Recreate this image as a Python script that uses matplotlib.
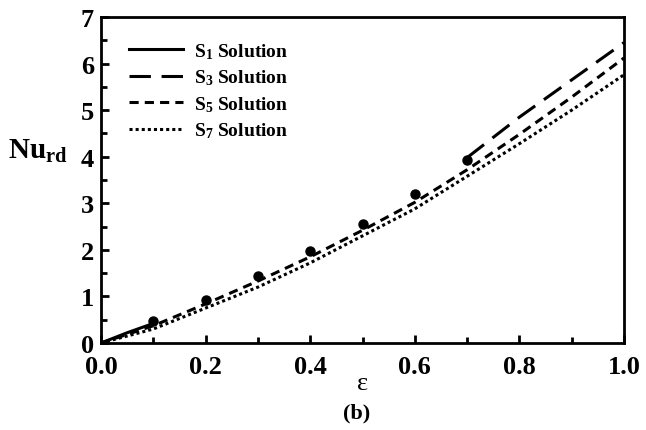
import matplotlib
matplotlib.use('Agg')
import matplotlib.pyplot as plt
from matplotlib.ticker import MultipleLocator

plt.rcParams['font.family'] = 'Liberation Serif'
plt.rcParams['mathtext.fontset'] = 'custom'
plt.rcParams['mathtext.rm'] = 'Liberation Serif'
plt.rcParams['mathtext.bf'] = 'Liberation Serif:bold'

# data
eps_s1 = [0.0, 0.05, 0.1]
nu_s1 = [0.0, 0.22, 0.42]

eps_s3 = [0.7, 0.8, 0.9, 1.0]
nu_s3 = [3.98, 4.85, 5.65, 6.45]

eps_s5 = [0.0, 0.1, 0.2, 0.3, 0.4, 0.5, 0.6, 0.7, 0.8, 0.9, 1.0]
nu_s5 = [0.0, 0.37, 0.84, 1.33, 1.85, 2.42, 3.02, 3.72, 4.48, 5.28, 6.12]

eps_s7 = [0.0, 0.1, 0.2, 0.3, 0.4, 0.5, 0.6, 0.7, 0.8, 0.9, 1.0]
nu_s7 = [0.0, 0.3, 0.75, 1.2, 1.72, 2.3, 2.88, 3.58, 4.28, 5.0, 5.76]

eps_pts = [0.1, 0.2, 0.3, 0.4, 0.5, 0.6, 0.7]
nu_pts = [0.47, 0.92, 1.44, 1.97, 2.55, 3.2, 3.93]

fig = plt.figure(figsize=(6.46, 4.31), dpi=100)
ax = fig.add_axes([101 / 646, 1 - 344 / 431, 523 / 646, 326 / 431])

lw = 2.2
ax.plot(eps_s1, nu_s1, color='black', lw=lw, ls='-', label=r'$\mathbf{S_1}$ Solution')
ax.plot(eps_s3, nu_s3, color='black', lw=lw, ls=(0, (7, 3.5)), label=r'$\mathbf{S_3}$ Solution')
ax.plot(eps_s5, nu_s5, color='black', lw=lw, ls=(0, (3, 2)), label=r'$\mathbf{S_5}$ Solution')
ax.plot(eps_s7, nu_s7, color='black', lw=lw, ls=(0, (1, 1)), label=r'$\mathbf{S_7}$ Solution')
ax.plot(eps_pts, nu_pts, 'o', color='black', ms=6.5)

ax.set_xlim(0, 1.0)
ax.set_ylim(0, 7)
ax.xaxis.set_major_locator(MultipleLocator(0.2))
ax.xaxis.set_minor_locator(MultipleLocator(0.1))
ax.yaxis.set_major_locator(MultipleLocator(1))
ax.yaxis.set_minor_locator(MultipleLocator(0.5))
ax.xaxis.set_major_formatter(matplotlib.ticker.FormatStrFormatter('%.1f'))
ax.tick_params(which='major', direction='in', length=6, width=2, labelsize=19)
ax.tick_params(which='minor', direction='in', length=4, width=2)
ax.tick_params(axis='x', pad=9)
ax.tick_params(axis='y', pad=5)
for lab in ax.get_xticklabels() + ax.get_yticklabels():
    lab.set_fontweight('bold')
for sp in ax.spines.values():
    sp.set_linewidth(2)

ax.set_xlabel('ε', fontsize=19)
ax.xaxis.set_label_coords((363 - 101) / 523, -0.09)
ax.set_ylabel(r'$\mathbf{Nu_{rd}}$', fontsize=21, rotation=0, labelpad=18)
ax.yaxis.set_label_coords(-0.12, 0.55)

leg = ax.legend(loc='upper left', frameon=False, fontsize=14, handlelength=2.8,
                handletextpad=0.55, labelspacing=0.35, bbox_to_anchor=(0.02, 0.98))
for t in leg.get_texts():
    t.set_fontweight('bold')

fig.text(357 / 646, 1 - 413 / 431, '(b)', ha='center', va='center',
         fontsize=16, fontweight='bold')

fig.savefig('out.png', dpi=100)
